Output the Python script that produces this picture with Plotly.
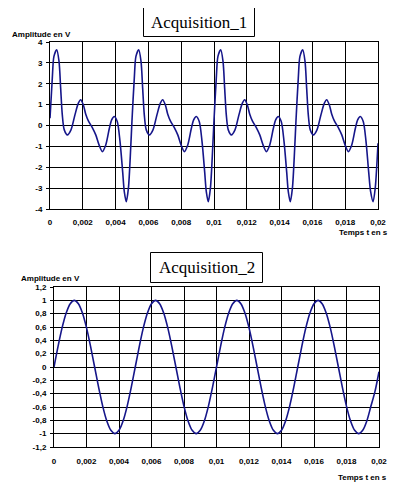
import plotly.graph_objects as go

# ---------------- data: Acquisition_1 ----------------
t1_p1 = [0.0, 0.00014, 0.00024, 0.00041, 0.00055, 0.00065, 0.00075, 0.00087, 0.00106, 0.00128,
         0.00152, 0.00173, 0.00187, 0.00203, 0.00218, 0.00234, 0.00258, 0.00279, 0.00299, 0.00319,
         0.0034, 0.00362, 0.00376, 0.00392, 0.0041, 0.00427, 0.00443, 0.00453, 0.00465, 0.00478, 0.00492]
v1_p1 = [0.35, 2.27, 3.31, 3.63, 3.07, 1.79, 0.51, -0.21, -0.45, -0.21,
         0.51, 1.07, 1.23, 0.99, 0.54, 0.22, -0.10, -0.45, -0.93, -1.25,
         -0.93, -0.13, 0.27, 0.43, 0.19, -0.77, -2.21, -3.17, -3.65, -3.01, -1.09]

t1_p2 = [0.005, 0.00514, 0.00524, 0.00541, 0.00555, 0.00565, 0.00575, 0.00587, 0.00606, 0.00628,
         0.00652, 0.00673, 0.00687, 0.00703, 0.00718, 0.00734, 0.00758, 0.00779, 0.00799, 0.00819,
         0.0084, 0.00862, 0.00876, 0.00892, 0.0091, 0.00927, 0.00943, 0.00953, 0.00965, 0.00978, 0.00992]
v1_p2 = [0.25, 2.27, 3.31, 3.63, 3.07, 1.79, 0.51, -0.21, -0.45, -0.21,
         0.51, 1.07, 1.23, 0.99, 0.54, 0.22, -0.10, -0.45, -0.93, -1.25,
         -0.93, -0.13, 0.27, 0.43, 0.19, -0.77, -2.21, -3.17, -3.65, -3.01, -1.09]

t1_p3 = [0.01, 0.01014, 0.01024, 0.01041, 0.01055, 0.01065, 0.01075, 0.01087, 0.01106, 0.01128,
         0.01152, 0.01173, 0.01187, 0.01203, 0.01218, 0.01234, 0.01258, 0.01279, 0.01299, 0.01319,
         0.0134, 0.01362, 0.01376, 0.01392, 0.0141, 0.01427, 0.01443, 0.01453, 0.01465, 0.01478, 0.01492]
v1_p3 = [0.25, 2.27, 3.31, 3.63, 3.07, 1.79, 0.51, -0.21, -0.45, -0.21,
         0.51, 1.07, 1.23, 0.99, 0.54, 0.22, -0.10, -0.45, -0.93, -1.25,
         -0.93, -0.13, 0.27, 0.43, 0.19, -0.77, -2.21, -3.17, -3.65, -3.01, -1.09]

t1_p4 = [0.015, 0.01514, 0.01524, 0.01541, 0.01555, 0.01565, 0.01575, 0.01587, 0.01606, 0.01628,
         0.01652, 0.01673, 0.01687, 0.01703, 0.01718, 0.01734, 0.01758, 0.01779, 0.01799, 0.01819,
         0.0184, 0.01862, 0.01876, 0.01892, 0.0191, 0.01927, 0.01943, 0.01955, 0.0197, 0.01983, 0.02]
v1_p4 = [0.25, 2.27, 3.31, 3.63, 3.07, 1.79, 0.51, -0.21, -0.45, -0.21,
         0.51, 1.07, 1.23, 0.99, 0.54, 0.22, -0.10, -0.45, -0.93, -1.25,
         -0.93, -0.13, 0.27, 0.43, 0.19, -0.77, -2.21, -3.17, -3.65, -3.01, -0.85]

# ---------------- data: Acquisition_2 ----------------
t2 = [0.0, 0.00025, 0.0005, 0.00075, 0.001, 0.00125, 0.0015, 0.00175, 0.002, 0.00225,
      0.0025, 0.00275, 0.003, 0.00325, 0.0035, 0.00375, 0.004, 0.00425, 0.0045, 0.00475,
      0.005, 0.00525, 0.0055, 0.00575, 0.006, 0.00625, 0.0065, 0.00675, 0.007, 0.00725,
      0.0075, 0.00775, 0.008, 0.00825, 0.0085, 0.00875, 0.009, 0.00925, 0.0095, 0.00975,
      0.01, 0.01025, 0.0105, 0.01075, 0.011, 0.01125, 0.0115, 0.01175, 0.012, 0.01225,
      0.0125, 0.01275, 0.013, 0.01325, 0.0135, 0.01375, 0.014, 0.01425, 0.0145, 0.01475,
      0.015, 0.01525, 0.0155, 0.01575, 0.016, 0.01625, 0.0165, 0.01675, 0.017, 0.01725,
      0.0175, 0.01775, 0.018, 0.01825, 0.0185, 0.01875, 0.019, 0.01925, 0.0195, 0.01975,
      0.02]
v2 = [0.0, 0.31, 0.59, 0.81, 0.95, 1.0, 0.95, 0.81, 0.59, 0.31,
      0.0, -0.31, -0.59, -0.81, -0.95, -1.0, -0.95, -0.81, -0.59, -0.31,
      0.0, 0.31, 0.59, 0.81, 0.95, 1.0, 0.95, 0.81, 0.59, 0.31,
      0.0, -0.31, -0.59, -0.81, -0.95, -1.0, -0.95, -0.81, -0.59, -0.31,
      0.0, 0.31, 0.59, 0.81, 0.95, 1.0, 0.95, 0.81, 0.59, 0.31,
      0.0, -0.31, -0.59, -0.81, -0.95, -1.0, -0.95, -0.81, -0.59, -0.31,
      0.0, 0.31, 0.59, 0.81, 0.95, 1.0, 0.95, 0.81, 0.59, 0.31,
      0.0, -0.31, -0.59, -0.81, -0.95, -1.0, -0.95, -0.81, -0.59, -0.37,
      -0.07]

# ---------------- ticks ----------------
x_ticks = [0, 0.002, 0.004, 0.006, 0.008, 0.01, 0.012, 0.014, 0.016, 0.018, 0.02]
x_labels = ["0", "0,002", "0,004", "0,006", "0,008", "0,01", "0,012", "0,014", "0,016", "0,018", "0,02"]
y1_ticks = [4, 3, 2, 1, 0, -1, -2, -3, -4]
y1_labels = ["4", "3", "2", "1", "0", "-1", "-2", "-3", "-4"]
y2_ticks = [1.2, 1, 0.8, 0.6, 0.4, 0.2, 0, -0.2, -0.4, -0.6, -0.8, -1, -1.2]
y2_labels = ["1,2", "1", "0,8", "0,6", "0,4", "0,2", "0", "-0,2", "-0,4", "-0,6", "-0,8", "-1", "-1,2"]

titles = ["Acquisition_1", "Acquisition_2"]
y_title = "Amplitude en V"
x_title = "Temps t en s"

# ---------------- figure ----------------
# the page has an 8px body margin, so the figure is drawn 8px in from the window edge
OFF = 8
W, H = 397 - OFF, 491 - 2 * OFF
LINE = "#16168a"
tick_font = dict(family="Liberation Sans, Arial, sans-serif", size=8, color="black", weight="bold")

t1 = t1_p1 + t1_p2 + t1_p3 + t1_p4
v1 = v1_p1 + v1_p2 + v1_p3 + v1_p4

fig = go.Figure()
fig.add_trace(go.Scatter(x=t1, y=v1, mode="lines", line=dict(color=LINE, width=1.6, shape="spline", smoothing=0.8),
                         xaxis="x", yaxis="y", showlegend=False, hoverinfo="skip"))
fig.add_trace(go.Scatter(x=t2, y=v2, mode="lines", line=dict(color=LINE, width=1.6, shape="spline", smoothing=0.8),
                         xaxis="x2", yaxis="y2", showlegend=False, hoverinfo="skip"))


def px_x(p):
    return (p - OFF) / W


def px_y(p):
    return 1 - (p - OFF) / H


axis_common = dict(showline=True, mirror=True, linecolor="black", linewidth=1,
                   showgrid=True, gridcolor="black", gridwidth=1, zeroline=False,
                   tickfont=tick_font, fixedrange=True, automargin=False)

fig.update_layout(
    template="none",
    width=W, height=H,
    margin=dict(l=0, r=0, t=0, b=0, pad=0),
    paper_bgcolor="white", plot_bgcolor="white",
    showlegend=False,
    xaxis=dict(domain=[px_x(50), px_x(378)], range=[0, 0.02], tickvals=x_ticks, ticktext=x_labels,
               ticks="", ticklabelstandoff=5, anchor="y", **axis_common),
    yaxis=dict(domain=[px_y(209), px_y(42)], range=[-4, 4], tickvals=y1_ticks, ticktext=y1_labels,
               ticks="outside", ticklen=3, tickcolor="black", ticklabelstandoff=2, anchor="x", **axis_common),
    xaxis2=dict(domain=[px_x(54), px_x(379)], range=[0, 0.02], tickvals=x_ticks, ticktext=x_labels,
                ticks="", ticklabelstandoff=6, anchor="y2", **axis_common),
    yaxis2=dict(domain=[px_y(447), px_y(287)], range=[-1.2, 1.2], tickvals=y2_ticks, ticktext=y2_labels,
                ticks="outside", ticklen=3, tickcolor="black", ticklabelstandoff=2, anchor="x2", **axis_common),
)

# title boxes (half-pixel offsets keep the 1px border crisp)
boxes = [(143.5, 7.5, 254.5, 36.5), (150.5, 252.5, 262.5, 282.5)]
for (x0, y0, x1, y1), ttl in zip(boxes, titles):
    fig.add_shape(type="rect", xref="paper", yref="paper",
                  x0=px_x(x0), x1=px_x(x1), y0=px_y(y1), y1=px_y(y0),
                  line=dict(color="black", width=1), fillcolor="white", layer="above")
    fig.add_annotation(text=ttl, xref="paper", yref="paper", x=px_x((x0 + x1) / 2), y=px_y((y0 + y1) / 2),
                       xanchor="center", yanchor="middle", showarrow=False,
                       font=dict(family="Liberation Serif, Times New Roman, serif", size=17, color="black"))

# axis titles
label_font = dict(family="Liberation Sans, Arial, sans-serif", size=8, color="black", weight="bold")
for (xl, yc) in [(10, 34), (19, 278)]:
    fig.add_annotation(text=y_title, xref="paper", yref="paper", x=px_x(xl), y=px_y(yc),
                       xanchor="left", yanchor="middle", showarrow=False, font=label_font)
for (xr, yc) in [(390, 233), (389, 477)]:
    fig.add_annotation(text=x_title, xref="paper", yref="paper", x=px_x(xr), y=px_y(yc),
                       xanchor="right", yanchor="middle", showarrow=False, font=label_font)

fig.write_html("out.html")
